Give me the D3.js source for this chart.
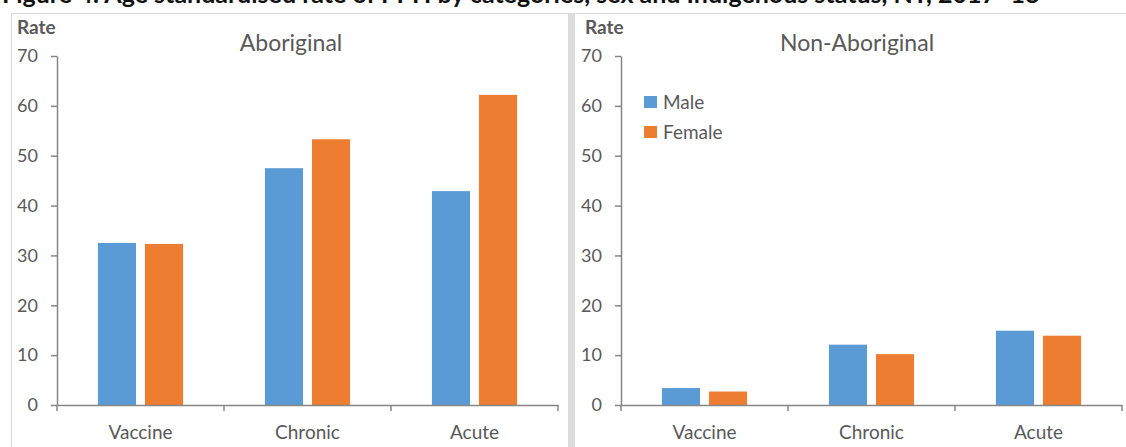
<!DOCTYPE html>
<html><head><meta charset="utf-8">
<script src="https://cdn.jsdelivr.net/npm/d3@7"></script>
<style>html,body{margin:0;padding:0;background:#fff;overflow:hidden}</style>
</head><body>
<script>
const categories = ["Vaccine", "Chronic", "Acute"];
const seriesNames = ["Male", "Female"];
const aboriginalMale = [32.5, 47.5, 42.9];
const aboriginalFemale = [32.3, 53.3, 62.2];
const nonAboriginalMale = [3.4, 12.1, 14.9];
const nonAboriginalFemale = [2.7, 10.2, 13.9];
const yTicks = [0, 10, 20, 30, 40, 50, 60, 70];
const panelTitles = ["Aboriginal", "Non-Aboriginal"];
const figureTitle = "Figure 4: Age standardised rate of PPH by categories, sex and Indigenous status, NT, 2017\u201318";

const W = 1126, H = 447;
const colors = ["#5B9BD5", "#ED7D31"];
const font = "Lato, 'Open Sans', sans-serif";
const svg = d3.select("body").append("svg").attr("width", W).attr("height", H);

svg.append("text").attr("x", 2).attr("y", 3).attr("font-family", font)
  .attr("font-weight", 700).attr("font-size", 25).attr("fill", "#111").text(figureTitle);

// panel frames
svg.append("rect").attr("x", 11.5).attr("y", 13.5).attr("width", 557).attr("height", 440)
  .attr("fill", "none").attr("stroke", "#d9d9d9");
svg.append("rect").attr("x", 569).attr("y", 13).attr("width", 5).attr("height", 440).attr("fill", "#dcdcdc");
svg.append("rect").attr("x", 574.5).attr("y", 13.5).attr("width", 560).attr("height", 440)
  .attr("fill", "none").attr("stroke", "#d9d9d9");

const y = d3.scaleLinear().domain([0, 70]).range([405, 56]);

const panels = [
  {x0: 57, x1: 558, titleX: 291, title: panelTitles[0], data: [aboriginalMale, aboriginalFemale], rateX: 17, legend: false},
  {x0: 621, x1: 1122, titleX: 857, title: panelTitles[1], data: [nonAboriginalMale, nonAboriginalFemale], rateX: 585, legend: true}
];

panels.forEach(p => {
  const g = svg.append("g");
  const x = d3.scaleBand().domain(categories).range([p.x0, p.x1]).paddingInner(0).paddingOuter(0);
  const xs = d3.scaleBand().domain(seriesNames).range([0, x.bandwidth()]).paddingInner(0.19).paddingOuter(0.87);

  g.append("text").attr("x", p.rateX).attr("y", 34).attr("font-family", font).attr("font-weight", 700)
    .attr("font-size", 19).attr("fill", "#595959").text("Rate");
  g.append("text").attr("x", p.titleX).attr("y", 51).attr("text-anchor", "middle")
    .attr("font-family", font).attr("font-size", 23).attr("fill", "#595959").text(p.title);

  // bars
  seriesNames.forEach((s, si) => {
    g.selectAll(null).data(categories).enter().append("rect")
      .attr("x", (c) => x(c) + xs(s))
      .attr("width", xs.bandwidth())
      .attr("y", (c, i) => y(p.data[si][i]))
      .attr("height", (c, i) => y(0) - y(p.data[si][i]))
      .attr("fill", colors[si]);
  });

  // y axis
  const ya = g.append("g").attr("transform", `translate(${p.x0},0)`)
    .call(d3.axisLeft(y).tickValues(yTicks).tickSize(6).tickSizeOuter(0).tickPadding(13));
  ya.select(".domain").attr("stroke", "#868686").attr("stroke-width", 1.5);
  ya.selectAll(".tick line").attr("stroke", "#868686").attr("stroke-width", 1.5);
  ya.selectAll(".tick text").attr("font-family", font).attr("font-size", 18).attr("fill", "#595959");

  // x axis
  const xa = g.append("g").attr("transform", `translate(0,${y(0)})`)
    .call(d3.axisBottom(x).tickSize(0).tickPadding(21));
  xa.select(".domain").attr("stroke", "#868686").attr("stroke-width", 1.5);
  xa.selectAll(".tick text").attr("font-family", font).attr("font-size", 19).attr("fill", "#595959");
  const bounds = [p.x0].concat(categories.map(c => x(c) + x.bandwidth()));
  g.selectAll(null).data(bounds).enter().append("line")
    .attr("x1", d => d).attr("x2", d => d).attr("y1", y(0)).attr("y2", y(0) + 6)
    .attr("stroke", "#868686").attr("stroke-width", 1.5);

  if (p.legend) {
    const lg = g.append("g");
    seriesNames.forEach((s, si) => {
      lg.append("rect").attr("x", 644).attr("y", 96 + si * 30).attr("width", 13).attr("height", 12).attr("fill", colors[si]);
      lg.append("text").attr("x", 663).attr("y", 109 + si * 30).attr("font-family", font)
        .attr("font-size", 19).attr("fill", "#595959").text(s);
    });
  }
});
</script>
</body></html>
